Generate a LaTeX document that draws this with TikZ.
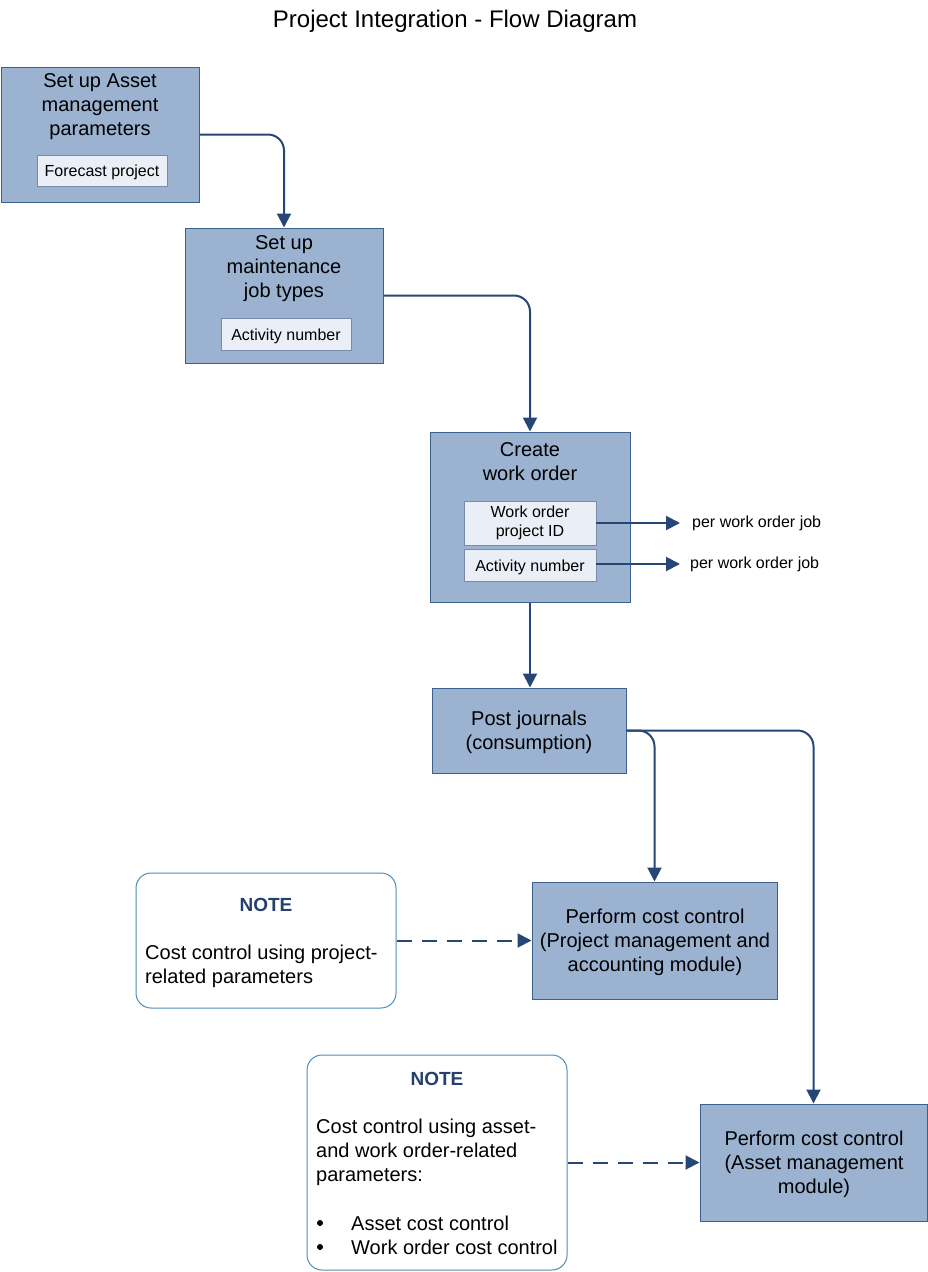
\documentclass[tikz,border=0pt]{standalone}
\usepackage{fontspec}
\setmainfont{Liberation Sans}
\usetikzlibrary{arrows.meta}
\definecolor{boxfill}{RGB}{155,179,209}
\definecolor{boxline}{RGB}{62,96,140}
\definecolor{innerfill}{RGB}{234,239,247}
\definecolor{innerline}{RGB}{120,140,170}
\definecolor{arrcol}{RGB}{38,70,118}
\definecolor{noteline}{RGB}{80,140,180}
\definecolor{notehead}{RGB}{38,64,110}
\tikzset{
  mainbox/.style={draw=boxline, fill=boxfill, line width=1pt, minimum width=#1, inner sep=0pt},
  innerbox/.style={draw=innerline, fill=innerfill, line width=0.8pt, inner sep=0pt, align=center, font=\fontsize{16}{19}\selectfont},
  oneline/.style={text height=15.5pt, text depth=3.5pt},
  notebox/.style={draw=noteline, fill=white, line width=1pt, rounded corners=15pt, inner sep=0pt},
  maintext/.style={align=center, font=\fontsize{20}{24}\selectfont, inner sep=0pt},
  notetext/.style={align=left, font=\fontsize{20}{24}\selectfont, inner sep=0pt, anchor=west},
  notehdr/.style={font=\fontsize{19}{22}\selectfont\bfseries, text=notehead, inner sep=0pt},
  smalllabel/.style={font=\fontsize{16}{19}\selectfont, inner sep=0pt, anchor=west},
  arr/.style={draw=arrcol, line width=2pt, -{Triangle[length=14pt,width=14pt]}, rounded corners=16pt},
  dasharr/.style={draw=arrcol, line width=2pt, dash pattern=on 15pt off 10pt, -{Triangle[length=14pt,width=14pt]}},
}
\begin{document}
\begin{tikzpicture}[x=1pt,y=-1pt]
\useasboundingbox (0,0) rectangle (928,1272);
\node[font=\fontsize{24}{28}\selectfont, inner sep=0pt] (title) at (455,21) {Project Integration - Flow Diagram};

% Box A
\node[mainbox=198pt, minimum height=135pt] (A) at (100,134.5) {};
\node[maintext] (Atext) at (100,107) {Set up Asset\\management\\parameters};
\node[innerbox, oneline, minimum width=130pt, minimum height=31pt] (Ain) at (102,170.5) {Forecast project};

% Box B
\node[mainbox=198pt, minimum height=135pt] (B) at (284,295.5) {};
\node[maintext] (Btext) at (284,269) {Set up\\maintenance\\job types};
\node[innerbox, oneline, minimum width=130pt, minimum height=32pt] (Bin) at (286,334) {Activity number};

% Box C
\node[mainbox=200pt, minimum height=170pt] (C) at (530,517) {};
\node[maintext] (Ctext) at (530,462) {Create\\work order};
\node[innerbox, minimum width=132pt, minimum height=44pt] (Cwo) at (530,523) {Work order\\project ID};
\node[innerbox, oneline, minimum width=132pt, minimum height=32pt] (Can) at (530,565) {Activity number};
\node[smalllabel] (L1) at (692,523) {per work order job};
\node[smalllabel] (L2) at (690,564) {per work order job};
\coordinate (L1tip) at (680,523);
\coordinate (L2tip) at (680,564);

% Box D
\node[mainbox=194pt, minimum height=85pt] (D) at (529,730.5) {};
\node[maintext] (Dtext) at (529,732) {Post journals\\(consumption)};

% Box E
\node[mainbox=245pt, minimum height=117pt] (E) at (654.5,940.5) {};
\node[maintext] (Etext) at (655,942) {Perform cost control\\(Project management and\\accounting module)};

% Box F
\node[mainbox=227pt, minimum height=117pt] (F) at (813.5,1162.5) {};
\node[maintext] (Ftext) at (814,1164) {Perform cost control\\(Asset management\\module)};

% Note 1
\node[notebox, minimum width=260pt, minimum height=135pt] (N1) at (266,940.5) {};
\node[notehdr] (N1h) at (266,905) {NOTE};
\node[notetext] (N1t) at (145,966) {Cost control using project-\\related parameters};

% Note 2
\node[notebox, minimum width=260pt, minimum height=215pt] (N2) at (437,1162.5) {};
\node[notehdr] (N2h) at (437,1079) {NOTE};
\node[notetext] (N2t) at (316,1152) {Cost control using asset-\\and work order-related\\parameters:};
\node[notetext] (N2b1) at (351,1223) {Asset cost control};
\node[notetext] (N2b2) at (351,1247) {Work order cost control};
\fill (320,1223) circle (3pt);
\fill (320,1247) circle (3pt);

% Connectors
\draw[arr] (A.east) -| (B.north);
\draw[arr] (B.east) -| (C.north);
\draw[arr] (C.south) -- (C.south |- D.north);
\draw[arr] (Cwo.east |- L1tip) -- (L1tip);
\draw[arr] (Can.east |- L2tip) -- (L2tip);
\draw[arr] (D.east) -| (E.north);
\draw[arr] (D.east) -| (F.north);
\draw[dasharr] (N1.east) -- (E.west);
\draw[dasharr] (N2.east) -- (F.west);
\end{tikzpicture}
\end{document}
